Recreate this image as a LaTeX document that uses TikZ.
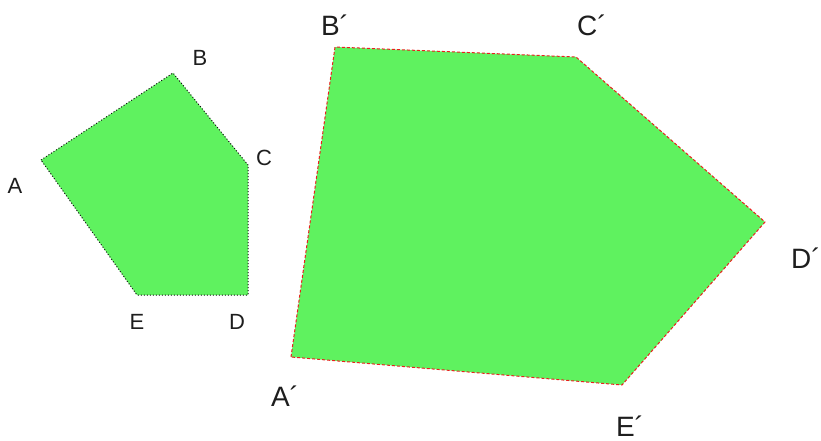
\documentclass[tikz,border=0pt]{standalone}
\usepackage{fontspec}
\setmainfont{Liberation Sans}
\usepackage{xcolor}
\definecolor{cFill}{RGB}{95, 242, 95}
\definecolor{bSmall}{RGB}{20, 20, 20}
\definecolor{bLarge}{RGB}{235, 30, 30}
\definecolor{tDark}{RGB}{30, 30, 30}

\begin{document}
\begin{tikzpicture}[
    x=1pt, y=-1pt,
    lbl/.style={text=tDark, inner sep=0pt, font=\fontsize{22}{22}\selectfont},
    lblbig/.style={text=tDark, inner sep=0pt, font=\fontsize{28}{28}\selectfont},
    small/.style={draw=bSmall, fill=cFill, line width=1pt, dotted},
    large/.style={draw=bLarge, fill=cFill, line width=1pt, densely dashed}
]

\useasboundingbox (0,0) rectangle (821,441);

% original pentagon
\coordinate (A) at (41,160);
\coordinate (B) at (173,73);
\coordinate (C) at (248,165);
\coordinate (D) at (248,295);
\coordinate (E) at (137,295);
\filldraw[small] (A) -- (B) -- (C) -- (D) -- (E) -- cycle;

% image pentagon
\coordinate (A1) at (291,357);
\coordinate (B1) at (335,47);
\coordinate (C1) at (576,57);
\coordinate (D1) at (765,222);
\coordinate (E1) at (622,385);
\filldraw[large] (A1) -- (B1) -- (C1) -- (D1) -- (E1) -- cycle;

\node[lbl] (lA) at (15,186) {A};
\node[lbl] (lB) at (200,58) {B};
\node[lbl] (lC) at (264,158) {C};
\node[lbl] (lD) at (237,322) {D};
\node[lbl] (lE) at (137,322) {E};

\node[lblbig] (lA1) at (285,396) {A´};
\node[lblbig] (lB1) at (335,25) {B´};
\node[lblbig] (lC1) at (592,25) {C´};
\node[lblbig] (lD1) at (806,258) {D´};
\node[lblbig] (lE1) at (630,426) {E´};

\end{tikzpicture}
\end{document}
